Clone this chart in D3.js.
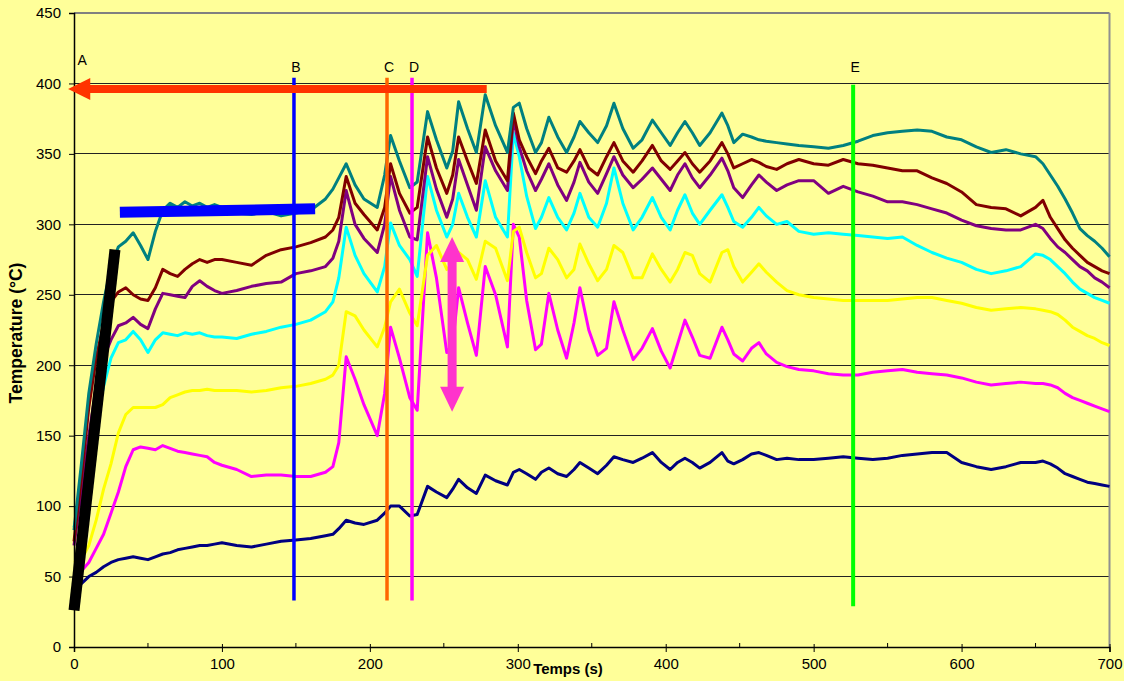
<!DOCTYPE html>
<html><head><meta charset="utf-8">
<script src="https://cdn.jsdelivr.net/npm/d3@7/dist/d3.min.js"></script>
<style>html,body{margin:0;padding:0;background:#FFFF99;}svg{display:block;}</style>
</head><body>
<svg id="c" width="1124" height="681"></svg>
<script>
const times = [0,5,10,15,20,25,30,35,40,45,50,55,60,65,70,75,80,85,90,95,100,110,120,130,140,150,160,170,175,179,184,190,196,205,210,214,220,227,232,239,245,252,256,260,266,272,278,285,293,297,301,306,312,316,321,327,333,338,342,348,354,360,365,371,378,384,391,397,403,408,413,418,423,430,438,442,446,452,458,463,468,475,482,490,500,510,520,530,540,550,560,570,580,590,600,610,620,630,640,650,655,660,665,670,675,680,685,690,695,700];

const teal = [83,130,180,215,245,270,284,288,294,285,275,295,310,315,312,316,313,315,312,314,312,308,307,309,306,308,310,318,325,333,343,328,318,312,335,363,345,326,330,380,360,340,352,387,368,351,392,370,351,383,386,368,351,358,376,362,351,362,373,365,358,370,386,368,354,360,374,365,356,365,373,365,356,365,379,370,358,364,362,360,359,358,357,356,355,354,356,359,363,365,366,367,366,362,360,355,351,353,350,348,343,335,327,318,308,297,292,288,283,277];
const maroon = [75,120,170,205,230,245,252,255,250,247,246,255,268,265,263,268,272,275,273,275,275,273,271,278,282,284,287,291,296,305,334,315,307,296,312,343,322,308,312,362,340,322,335,362,345,329,367,345,331,379,360,348,336,345,354,340,337,345,353,340,335,348,358,345,337,345,356,345,339,345,351,343,337,345,358,350,340,343,346,344,341,339,343,346,343,342,346,343,342,340,338,338,333,329,323,314,312,311,306,312,317,305,297,289,283,278,273,270,267,265];
const purple = [72,110,150,185,205,218,228,230,234,229,226,240,251,250,249,248,256,260,256,253,251,253,256,258,259,265,267,270,276,288,324,300,290,280,300,334,310,291,289,348,325,305,318,346,328,310,355,338,324,375,355,338,324,332,343,328,317,330,344,330,322,336,348,335,326,332,340,332,324,335,343,333,326,335,347,338,326,319,328,335,330,324,328,331,331,322,327,323,320,316,316,314,311,308,303,299,297,296,296,300,297,290,284,280,275,270,267,262,259,255];
const cyan = [85,110,135,160,185,205,216,218,224,218,209,218,223,222,221,223,222,223,221,220,220,219,222,224,227,229,232,238,245,262,298,278,265,252,270,301,285,275,263,334,310,291,300,322,305,291,331,305,291,365,348,320,297,305,319,305,296,308,322,305,298,315,340,315,296,305,319,305,296,310,321,308,300,310,321,312,302,298,305,312,306,300,302,295,293,294,293,292,291,290,291,285,280,276,273,268,265,267,270,279,278,275,270,265,259,254,251,248,246,244];
const yellow = [60,62,72,90,112,130,152,165,170,170,170,170,172,177,179,181,182,182,183,182,182,182,181,182,184,185,187,190,193,200,238,235,225,213,227,245,254,237,228,278,285,268,272,280,275,261,288,283,260,295,298,280,262,265,283,275,262,268,286,272,260,268,285,280,262,262,279,268,259,268,280,278,265,259,280,282,270,259,266,272,266,259,253,250,248,247,246,246,246,246,247,248,248,246,244,241,239,240,241,240,239,238,236,232,227,224,221,219,216,214];
const magenta = [52,54,60,70,80,95,110,128,140,142,141,140,143,141,139,138,137,136,135,131,129,126,121,122,122,121,121,124,128,145,206,190,172,150,180,227,205,177,168,294,262,209,215,255,230,207,270,250,213,300,291,246,211,215,251,225,205,230,255,225,207,212,245,225,204,212,226,210,198,215,232,220,207,205,227,218,208,203,212,216,208,202,199,197,196,194,193,193,195,196,197,195,194,193,191,188,186,187,188,187,187,186,184,180,177,175,173,171,169,167];
const navy = [45,45,50,53,57,60,62,63,64,63,62,64,66,67,69,70,71,72,72,73,74,72,71,73,75,76,77,79,80,84,90,88,87,90,95,100,100,93,94,114,110,106,112,119,113,109,122,118,115,124,126,123,119,124,127,123,121,126,131,127,123,129,135,133,131,134,138,131,126,131,134,131,127,131,138,132,130,133,137,138,136,133,134,133,133,134,135,134,133,134,136,137,138,138,131,128,126,128,131,131,132,130,127,123,121,119,117,116,115,114];

const seriesValues = [navy, magenta, yellow, cyan, purple, maroon, teal];
const seriesColors = ['#000080', '#FF00FF', '#FFFF00', '#00FFFF', '#800080', '#800000', '#008080'];

const xTicks = [0,100,200,300,400,500,600,700];
const xMinorTicks = [50,150,250,350,450,550,650];
const yTicks = [0,50,100,150,200,250,300,350,400,450];

// annotation markers (time in s, temperature range in °C)
const markerLabels = ['B','C','D','E'];
const markerTimes = [148.7, 211.6, 228.5, 526.7];
const markerTop = [404, 404, 404, 399];
const markerBottom = [33, 33, 33, 29];
const markerColors = ['#0000FF', '#FF6600', '#FF00FF', '#00FF00'];

const svg = d3.select('#c');
const W = 1124, H = 681;
const FONT = 'Arial, Liberation Sans, sans-serif';
const x = d3.scaleLinear().domain([0,700]).range([74,1109.5]);
const y = d3.scaleLinear().domain([0,450]).range([647,13]);

svg.append('rect').attr('width',W).attr('height',H).attr('fill','#FFFF99');

// grid
svg.append('g').selectAll('line').data(yTicks.filter(v=>v>0 && v<450)).join('line')
  .attr('x1',x(0)).attr('x2',x(700)).attr('y1',d=>y(d)).attr('y2',d=>y(d))
  .attr('stroke','#222').attr('stroke-width',1).attr('shape-rendering','crispEdges');
// top & right border
svg.append('line').attr('x1',x(0)).attr('x2',x(700)).attr('y1',y(450)).attr('y2',y(450))
  .attr('stroke','#808080').attr('stroke-width',2);
svg.append('line').attr('x1',x(700)).attr('x2',x(700)).attr('y1',y(450)).attr('y2',y(0))
  .attr('stroke','#909090').attr('stroke-width',2);

// series
const line = d3.line().x((d,i)=>x(times[i])).y(d=>y(d));
seriesValues.forEach((vals,k)=>{
  svg.append('path').datum(vals).attr('d',line).attr('fill','none')
    .attr('stroke',seriesColors[k]).attr('stroke-width',3).attr('stroke-linejoin','round');
});

// axes
const xAxis = d3.axisBottom(x).tickValues(xTicks).tickSize(5).tickPadding(6).tickFormat(d3.format('d'));
const gx = svg.append('g').attr('transform',`translate(0,${y(0)})`).call(xAxis);
gx.select('.domain').attr('stroke','#000').attr('stroke-width',1.5);
gx.selectAll('.tick line').attr('stroke','#000').attr('y1',-3);
gx.selectAll('text').attr('font-family',FONT).attr('font-size',15).attr('fill','#000');
svg.append('g').selectAll('line').data(xMinorTicks).join('line')
  .attr('x1',d=>x(d)).attr('x2',d=>x(d)).attr('y1',y(0)-4).attr('y2',y(0)).attr('stroke','#000');

const yAxis = d3.axisLeft(y).tickValues(yTicks).tickSize(5).tickPadding(8);
const gy = svg.append('g').attr('transform',`translate(${x(0)},0)`).call(yAxis);
gy.select('.domain').attr('stroke','#000').attr('stroke-width',1.5);
gy.selectAll('.tick line').attr('stroke','#000');
gy.selectAll('text').attr('font-family',FONT).attr('font-size',15).attr('fill','#000');

svg.append('text').attr('x',568).attr('y',674).attr('text-anchor','middle')
  .attr('font-family',FONT).attr('font-weight','bold').attr('font-size',15).text('Temps (s)');
svg.append('text').attr('transform',`translate(22,${y(225)+3}) rotate(-90)`).attr('text-anchor','middle')
  .attr('font-family',FONT).attr('font-weight','bold').attr('font-size',17.5).text('Temperature (°C)');

// vertical markers
markerTimes.forEach((t,i)=>{
  svg.append('line').attr('x1',x(t)).attr('x2',x(t)).attr('y1',y(markerTop[i])).attr('y2',y(markerBottom[i]))
    .attr('stroke',markerColors[i]).attr('stroke-width',i===3?4:3.5);
  svg.append('text').attr('x',x(t)+2).attr('y',y(404)-6).attr('text-anchor','middle')
    .attr('font-family',FONT).attr('font-size',14).text(markerLabels[i]);
});
svg.append('text').attr('x',x(5.5)).attr('y',65).attr('text-anchor','middle')
  .attr('font-family',FONT).attr('font-size',14).text('A');

// blue bar
svg.append('line').attr('x1',x(31)).attr('x2',x(163)).attr('y1',y(308.5)).attr('y2',y(311))
  .attr('stroke','#0000FF').attr('stroke-width',11);
// black ramp
svg.append('line').attr('x1',x(0)).attr('x2',x(27.7)).attr('y1',y(26)).attr('y2',y(282))
  .attr('stroke','#000').attr('stroke-width',11);

// red arrow
const ra = svg.append('g');
ra.append('line').attr('x1',x(279)).attr('x2',x(6)).attr('y1',y(396)).attr('y2',y(396))
  .attr('stroke','#FF3300').attr('stroke-width',8);
ra.append('path').attr('d',`M${x(-4)},${y(396)} L${x(11)},${y(396)-11} L${x(11)},${y(396)+11} Z`).attr('fill','#FF3300');

// pink double arrow
const pa = svg.append('g');
const px = x(255.6);
pa.append('line').attr('x1',px).attr('x2',px).attr('y1',y(280)).attr('y2',y(178))
  .attr('stroke','#FF33CC').attr('stroke-width',9);
pa.append('path').attr('d',`M${px},${y(291)} L${px-12},${y(291)+25} L${px+12},${y(291)+25} Z`).attr('fill','#FF33CC');
pa.append('path').attr('d',`M${px},${y(167)} L${px-12},${y(167)-25} L${px+12},${y(167)-25} Z`).attr('fill','#FF33CC');
</script>
</body></html>
